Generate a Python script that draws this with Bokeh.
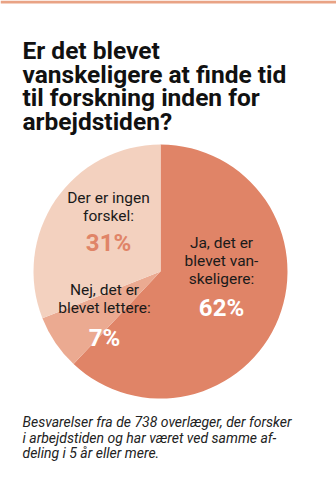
import math
from bokeh.plotting import figure
from bokeh.models import Range1d, BoxAnnotation, ColumnDataSource
from bokeh.core.properties import value
from bokeh.embed import file_html
from bokeh.resources import INLINE

# ---- data ----
categories = ["Ja, det er blevet vanskeligere", "Nej, det er blevet lettere", "Der er ingen forskel"]
values = [62, 7, 31]
pct_labels = ["62%", "7%", "31%"]
title_lines = ["Er det blevet", "vanskeligere at finde tid", "til forskning inden for", "arbejdstiden?"]
label_lines = [["Ja, det er", "blevet van-", "skeligere:"], ["Nej, det er", "blevet lettere:"], ["Der er ingen", "forskel:"]]
note_lines = ["Besvarelser fra de 738 overlæger, der forsker",
              "i arbejdstiden og har været ved samme af-",
              "deling i 5 år eller mere."]

# ---- styles ----
slice_colors = ["#E08467", "#EBAA91", "#F3D1BF"]
pct_colors = ["#FFFFFF", "#FFFFFF", "#E08467"]
W, H = 336, 480

def sy(y):
    return H - y

p = figure(width=W, height=H, output_backend="svg", toolbar_location=None,
           x_range=Range1d(0, W), y_range=Range1d(0, H),
           x_axis_location=None, y_axis_location=None, min_border=0)
p.grid.visible = False
p.outline_line_color = None
p.background_fill_color = "white"
p.border_fill_color = "white"

# top stripe
p.add_layout(BoxAnnotation(bottom=H - 3, top=H, fill_color="#E9A385", fill_alpha=1, line_color=None))

# pie
total = sum(values)
starts, ends = [], []
acc = 0
for v in values:
    starts.append(math.pi / 2 - 2 * math.pi * acc / total)
    acc += v
    ends.append(math.pi / 2 - 2 * math.pi * acc / total)
src = ColumnDataSource(dict(cat=categories, val=values, start=starts, end=ends, color=slice_colors))
cx, cy, r = 160, sy(271), 127
p.wedge(x=cx, y=cy, radius=r, start_angle="start", end_angle="end", direction="clock",
        fill_color="color", line_color=None, source=src)

# title
title_base = [50, 73.5, 97, 120.5]
p.text(x=[22] * len(title_lines), y=[sy(b) for b in title_base], text=title_lines,
       text_font=value("Roboto"), text_font_style="bold", text_font_size="24.5px",
       text_color="#111111", text_baseline="alphabetic", text_align="left")

# slice labels (layout positions)
label_pos = [(221, [242, 260, 278]), (104, [289, 307]), (108, [197, 215])]
pct_pos = [(221, 307), (104, 337), (108, 242)]
for i in range(len(categories)):
    lx, lys = label_pos[i]
    p.text(x=[lx] * len(label_lines[i]), y=[sy(v) for v in lys], text=label_lines[i],
           text_font=value("Roboto"), text_font_size="15.5px", text_color="#1a1a1a",
           text_align="center", text_baseline="middle")
    px, py = pct_pos[i]
    p.text(x=[px], y=[sy(py)], text=[pct_labels[i]],
           text_font=value("Roboto"), text_font_style="bold", text_font_size="24px",
           text_color=pct_colors[i], text_align="center", text_baseline="middle")

# footnote
note_y = [421, 437, 452]
p.text(x=[22] * len(note_lines), y=[sy(v) for v in note_y], text=note_lines,
       text_font=value("Roboto"), text_font_style="italic", text_font_size="14px",
       text_color="#222222", text_align="left", text_baseline="middle")

open("out.html", "w").write(file_html(p, INLINE))
